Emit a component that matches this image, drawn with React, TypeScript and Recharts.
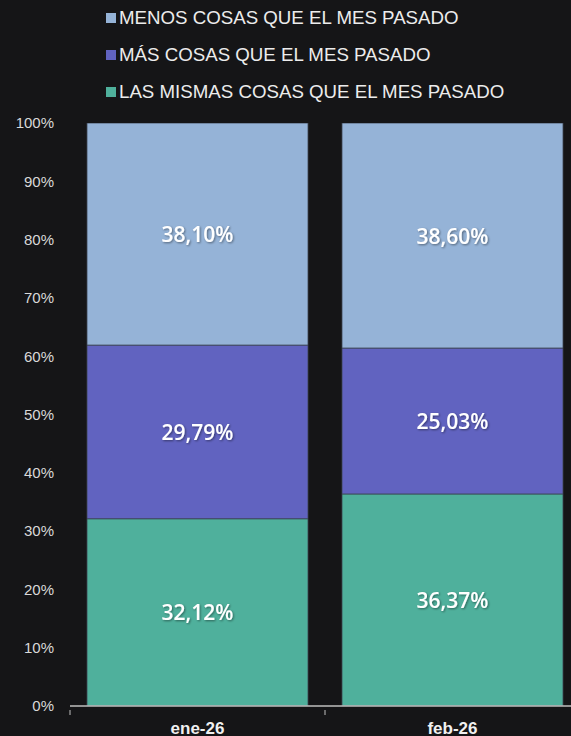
import React from 'react';
import { BarChart, Bar, XAxis, YAxis, LabelList } from 'recharts';

const months = ['ene-26', 'feb-26'];
const mismas = [32.12, 36.37];
const mas = [29.79, 25.03];
const menos = [38.1, 38.6];
const yTicks = [0, 10, 20, 30, 40, 50, 60, 70, 80, 90, 100];

const series = [
  { key: 'mismas', name: 'LAS MISMAS COSAS QUE EL MES PASADO', color: '#4fb09c' },
  { key: 'mas', name: 'MÁS COSAS QUE EL MES PASADO', color: '#6163c0' },
  { key: 'menos', name: 'MENOS COSAS QUE EL MES PASADO', color: '#95b3d7' },
];

const data = months.map((month, i) => ({
  month,
  mismas: mismas[i],
  mas: mas[i],
  menos: menos[i],
}));

const fmt = (v: number) => v.toFixed(2).replace('.', ',') + '%';

function SegmentLabel(props: any) {
  const { x, y, width, height, value } = props;
  return (
    <text
      x={x + width / 2}
      y={y + height / 2}
      textAnchor="middle"
      dominantBaseline="central"
      fill="#ffffff"
      fontSize={21}
      fontWeight={600}
      fontFamily="'Open Sans', sans-serif"
      filter="url(#lblShadow)"
    >
      {fmt(value)}
    </text>
  );
}

function MonthTick(props: any) {
  const { x, y, payload } = props;
  const off = payload && payload.offset ? payload.offset : 127.5;
  return (
    <g>
      <line x1={x - off} x2={x - off} y1={y - 4} y2={y + 1} stroke="#bfbfbf" strokeWidth={1} />
      <text
        x={x}
        y={y + 20}
        textAnchor="middle"
        fill="#f0f0f0"
        fontSize={17}
        fontWeight="bold"
        fontFamily="'Liberation Sans', Arial, sans-serif"
      >
        {payload.value}
      </text>
    </g>
  );
}

export default function App() {
  const legendItems = [...series].reverse();
  return (
    <div
      style={{
        position: 'fixed',
        left: 0,
        top: 0,
        width: 571,
        height: 736,
        background: '#151517',
        overflow: 'hidden',
      }}
    >
      <div style={{ position: 'absolute', left: 106, top: 0 }}>
        {legendItems.map((s, i) => (
          <div
            key={s.key}
            style={{
              position: 'absolute',
              top: 7 + i * 36.8,
              left: 0,
              display: 'flex',
              alignItems: 'center',
              whiteSpace: 'nowrap',
              fontFamily: "'Liberation Sans', Arial, sans-serif",
              fontSize: 18.7,
              color: '#ececec',
              height: 22,
            }}
          >
            <span style={{ width: 10, height: 10, background: s.color, marginRight: 3, display: 'inline-block' }} />
            <span>{s.name}</span>
          </div>
        ))}
      </div>
      <div style={{ position: 'absolute', left: 0, top: 0 }}>
        <BarChart
          width={600}
          height={736}
          data={data}
          margin={{ top: 123, right: 20, left: 0, bottom: 0 }}
          barCategoryGap={17}
        >
          <defs>
            <filter id="lblShadow" x="-20%" y="-40%" width="140%" height="180%">
              <feDropShadow dx="1" dy="1" stdDeviation="0.8" floodColor="#000" floodOpacity="0.45" />
            </filter>
          </defs>
          <YAxis
            width={70}
            domain={[0, 100]}
            ticks={yTicks}
            allowDataOverflow
            axisLine={false}
            tickLine={false}
            tickMargin={10}
            tickFormatter={(v) => `${v}%`}
            tick={{ fontSize: 15, fill: '#d9d9d9', fontFamily: "'Liberation Sans', Arial, sans-serif" }}
          />
          <XAxis
            dataKey="month"
            height={30}
            axisLine={{ stroke: '#bfbfbf', strokeWidth: 1.5 }}
            tickLine={false}
            tick={<MonthTick />}
            interval={0}
          />
          {series.map((s) => (
            <Bar
              key={s.key}
              dataKey={s.key}
              name={s.name}
              stackId="a"
              fill={s.color}
              stroke="#3c4552"
              strokeWidth={0.8}
              isAnimationActive={false}
            >
              <LabelList dataKey={s.key} content={<SegmentLabel />} />
            </Bar>
          ))}
        </BarChart>
      </div>
    </div>
  );
}
